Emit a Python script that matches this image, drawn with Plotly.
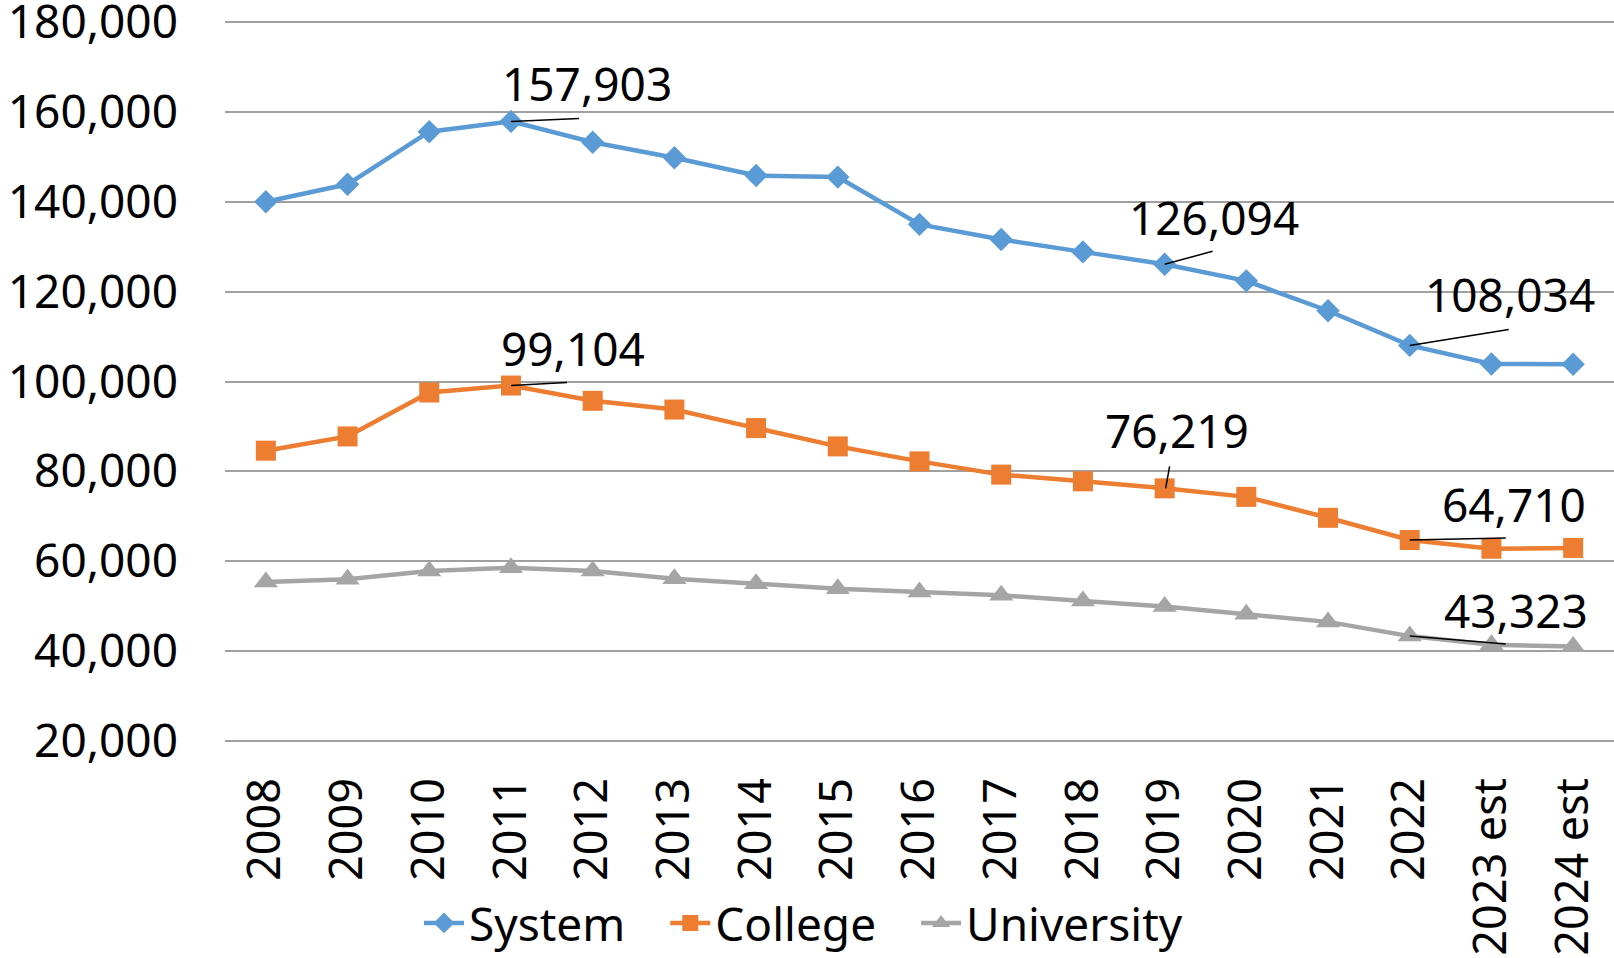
import plotly.graph_objects as go

years = ['2008', '2009', '2010', '2011', '2012', '2013', '2014', '2015', '2016',
         '2017', '2018', '2019', '2020', '2021', '2022', '2023 est', '2024 est']

system = [140000, 143900, 155600, 157903, 153250, 149800, 145850, 145500, 134980,
          131600, 128850, 126094, 122400, 115750, 108034, 103900, 103850]
college = [84600, 87770, 97550, 99104, 95700, 93750, 89630, 85550, 82220,
           79270, 77780, 76219, 74320, 69660, 64710, 62770, 62950]
university = [55360, 55960, 57800, 58560, 57800, 56110, 55000, 53890, 53150,
              52410, 51150, 49890, 48190, 46490, 43323, 41380, 41020]

# labelled points: (series, year index)
labelled = [('System', 3), ('System', 11), ('System', 14),
            ('College', 3), ('College', 11), ('College', 14),
            ('University', 14)]

series = {'System': system, 'College': college, 'University': university}
colors = {'System': '#5B9BD5', 'College': '#ED7D31', 'University': '#A5A5A5'}
symbols = {'System': 'diamond', 'College': 'square', 'University': 'triangle-up'}
msize = {'System': 18, 'College': 20, 'University': 21}
# trailing spaces widen the gap between legend entries
legend_pad = {'System': '\u2002\u00a0', 'College': '\u2002\u00a0', 'University': ''}

# pixel offsets of label text centre and leader-line end
label_shift = [(76, 38), (49, 47), (100, 51), (62, 38), (12, 58), (104, 36), (106, 26)]
leader_end = [(68, -3), (48, -13), (99, -16), (56, -3), (5, -22), (96, -2), (96, 8)]
leader_start = [(0, 0), (0, 0), (0, 0), (0, 0), (1, 0), (0, 0), (0, 0)]

font_family = 'Noto Sans'

fig = go.Figure()

for name in ['System', 'College', 'University']:
    fig.add_trace(go.Scatter(
        x=years, y=series[name],
        mode='lines+markers',
        name=name + legend_pad[name],
        line=dict(color=colors[name], width=4.5),
        marker=dict(symbol=symbols[name], size=msize[name], color=colors[name]),
    ))

# year labels look numeric, so place annotations/leaders by category index
for (name, i), (xs, ys), (ex, ey), (sx, sy) in zip(labelled, label_shift, leader_end, leader_start):
    val = series[name][i]
    fig.add_annotation(x=i, y=val, text=f'{val:,}', showarrow=False,
                       xshift=xs, yshift=ys,
                       font=dict(size=46, color='black', family=font_family))
    fig.add_shape(type='line', xref='x', yref='y',
                  xsizemode='pixel', ysizemode='pixel',
                  xanchor=i, yanchor=val,
                  x0=sx, y0=sy, x1=ex, y1=-ey,
                  line=dict(color='black', width=1.5))

fig.update_layout(
    autosize=False,
    width=1614,
    height=958,
    margin=dict(l=225, r=0, t=21, b=216, autoexpand=False),
    plot_bgcolor='white',
    paper_bgcolor='white',
    font=dict(family=font_family, size=46, color='black'),
    showlegend=True,
    legend=dict(
        orientation='h',
        xref='container', yref='container',
        x=0.2596, xanchor='left',
        y=0.0365, yanchor='middle',
        bgcolor='rgba(0,0,0,0)',
        font=dict(size=46),
        itemwidth=40,
        tracegroupgap=0,
    ),
    xaxis=dict(
        type='category',
        range=[-0.5, 16.5],
        automargin=False,
        tickangle=-90,
        showgrid=False,
        showline=False,
        zeroline=False,
        ticks='',
        ticklabelstandoff=26,
        ticklabeloverflow='allow',
        tickfont=dict(size=45),
    ),
    yaxis=dict(
        range=[19750, 180250],
        automargin=False,
        tickvals=[20000, 40000, 60000, 80000, 100000, 120000, 140000, 160000, 180000],
        tickformat=',',
        showgrid=True,
        gridcolor='#A0A0A0',
        gridwidth=2,
        zeroline=False,
        showline=False,
        ticks='',
        ticklabelstandoff=46,
        ticklabeloverflow='allow',
        tickfont=dict(size=46),
    ),
)

# drop the default 8px page margin so the figure fills the window
fig.write_html('out.html', config={'displayModeBar': False},
               post_script="document.body.style.margin='0';")
